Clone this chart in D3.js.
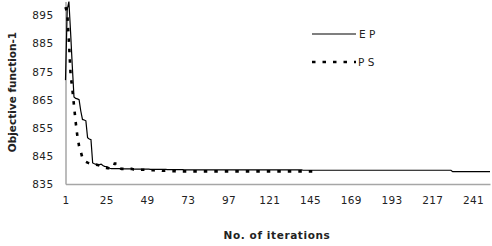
<!DOCTYPE html>
<html>
<head>
<meta charset="utf-8">
<script src="https://cdn.jsdelivr.net/npm/d3@7"></script>
<style>
  body { margin: 0; background: #fff; }
  svg { display: block; font-family: "DejaVu Sans", sans-serif; }
</style>
</head>
<body>
<svg id="chart" width="492" height="246"></svg>
<script>
// Objective function-1 vs iterations, EP and PS

const xTickLabels = [1, 25, 49, 73, 97, 121, 145, 169, 193, 217, 241];
const yTickLabels = [835, 845, 855, 865, 875, 885, 895];

// EP (solid), one value per iteration 1..251
const epValues = [
  872, 897, 900, 889, 877, 866, 865.5, 865.3, 865, 861,
  858, 857.8, 857.5, 851.5, 851, 850.8, 842.5, 842.2, 842, 841.8,
  841.9, 842.1, 841.6, 841.3, 841.2, 841, 840.6, 840.5, 840.5, 840.5,
  840.5, 840.5, 840.5, 840.4, 840.4, 840.4, 840.4, 840.4, 840.4, 840.4,
  840.3, 840.3, 840.3, 840.3, 840.3, 840.3, 840.3, 840.3, 840.3, 840.3,
  840.2, 840.2, 840.2, 840.2, 840.2, 840.2, 840.2, 840.2, 840.2, 840.2,
  840.1, 840.1, 840.1, 840.1, 840.1, 840.1, 840.1, 840.1, 840.1, 840.1,
  840, 840, 840, 840, 840, 840, 840, 840, 840, 840,
  840, 840, 840, 840, 840, 840, 840, 840, 840, 840,
  840, 840, 840, 840, 840, 840, 840, 840, 840, 840,
  840, 840, 840, 840, 840, 840, 840, 840, 840, 840,
  840, 840, 840, 840, 840, 840, 840, 840, 840, 840,
  840, 840, 840, 840, 840, 840, 840, 840, 840, 840,
  840, 840, 840, 840, 840, 840, 840, 840, 840, 840,
  839.9, 839.9, 839.9, 839.9, 839.9, 839.9, 839.9, 839.9, 839.9, 839.9,
  839.9, 839.9, 839.9, 839.9, 839.9, 839.9, 839.9, 839.9, 839.9, 839.9,
  839.9, 839.9, 839.9, 839.9, 839.9, 839.9, 839.9, 839.9, 839.9, 839.9,
  839.9, 839.9, 839.9, 839.9, 839.9, 839.9, 839.9, 839.9, 839.9, 839.9,
  839.9, 839.9, 839.9, 839.9, 839.9, 839.9, 839.9, 839.9, 839.9, 839.9,
  839.9, 839.9, 839.9, 839.9, 839.9, 839.9, 839.9, 839.9, 839.9, 839.9,
  839.9, 839.9, 839.9, 839.9, 839.9, 839.9, 839.9, 839.9, 839.9, 839.9,
  839.9, 839.9, 839.9, 839.9, 839.9, 839.9, 839.9, 839.9, 839.9, 839.9,
  839.9, 839.9, 839.9, 839.9, 839.9, 839.9, 839.9, 839.9, 839.4, 839.4,
  839.4, 839.4, 839.4, 839.4, 839.4, 839.4, 839.4, 839.4, 839.4, 839.4,
  839.4, 839.4, 839.4, 839.4, 839.4, 839.4, 839.4, 839.4, 839.4, 839.4,
  839.4
];

// PS (dashed), iterations 1..150
const psValues = [
  898, 896, 886, 874, 869, 863, 857, 852, 848.5, 846.5,
  844.2, 843.4, 842.9, 842.6, 842.4, 842.2, 842.1, 842, 841.9, 841.8,
  841.6, 841.3, 841, 840.8, 840.7, 840.6, 840.6, 840.6, 840.6, 842.3,
  842.3, 842.3, 840.6, 840.4, 840.4, 840.4, 840.4, 840.4, 840.4, 840.4,
  840.2, 840.2, 840.2, 840.2, 840.1, 840.1, 840.1, 840.1, 840, 840,
  839.9, 839.9, 839.9, 839.8, 839.8, 839.8, 839.8, 839.7, 839.7, 839.7,
  839.6, 839.6, 839.6, 839.6, 839.6, 839.5, 839.5, 839.5, 839.5, 839.5,
  839.5, 839.5, 839.5, 839.5, 839.5, 839.5, 839.5, 839.5, 839.5, 839.5,
  839.5, 839.5, 839.5, 839.5, 839.5, 839.5, 839.5, 839.5, 839.5, 839.5,
  839.5, 839.5, 839.5, 839.5, 839.5, 839.5, 839.5, 839.5, 839.5, 839.5,
  839.5, 839.5, 839.5, 839.5, 839.5, 839.5, 839.5, 839.5, 839.5, 839.5,
  839.5, 839.5, 839.5, 839.5, 839.5, 839.5, 839.5, 839.5, 839.5, 839.5,
  839.5, 839.5, 839.5, 839.5, 839.5, 839.5, 839.5, 839.5, 839.5, 839.5,
  839.5, 839.5, 839.5, 839.5, 839.5, 839.5, 839.5, 839.5, 839.5, 839.5,
  839.5, 839.5, 839.5, 839.5, 839.5, 839.5, 839.5, 839.5, 839.5, 839.5
];

const seriesNames = ['E P', 'P S'];

const svg = d3.select('#chart');

const x = d3.scaleLinear().domain([1, 251]).range([65.5, 490]);
const y = d3.scaleLinear().domain([835, 900]).range([184, 1.5]);

const axisColor = '#a6a6a6';
const textColor = '#222';

// x axis
const xAxis = svg.append('g')
  .attr('transform', `translate(0,${y(835)})`)
  .call(d3.axisBottom(x).tickValues(xTickLabels).tickSize(0).tickPadding(13));
xAxis.select('.domain').attr('stroke', axisColor).attr('stroke-width', 1.5);
xAxis.selectAll('text').attr('font-size', 10.5).attr('fill', textColor)
  .attr('font-family', '"DejaVu Sans", sans-serif').attr('letter-spacing', 0.4);

// y axis
const yAxis = svg.append('g')
  .attr('transform', `translate(${x(1)},0)`)
  .call(d3.axisLeft(y).tickValues(yTickLabels).tickSize(0).tickPadding(12));
yAxis.select('.domain').attr('stroke', axisColor).attr('stroke-width', 1.5);
yAxis.selectAll('text').attr('font-size', 10.5).attr('fill', textColor)
  .attr('font-family', '"DejaVu Sans", sans-serif').attr('letter-spacing', 0.4);

// lines
const line = d3.line()
  .x((d, i) => x(i + 1))
  .y(d => y(d));

svg.append('path')
  .datum(epValues)
  .attr('fill', 'none')
  .attr('stroke', '#000')
  .attr('stroke-width', 1.2)
  .attr('d', line);

svg.append('path')
  .datum(psValues)
  .attr('fill', 'none')
  .attr('stroke', '#000')
  .attr('stroke-width', 2.6)
  .attr('stroke-dasharray', '3.5,7')
  .attr('d', line);

// legend
const legend = svg.append('g');
legend.append('line')
  .attr('x1', 312).attr('x2', 356).attr('y1', 34).attr('y2', 34)
  .attr('stroke', '#000').attr('stroke-width', 1.2);
legend.append('text')
  .attr('x', 359).attr('y', 38)
  .attr('font-size', 10.5).attr('fill', textColor)
  .text(seriesNames[0]);
legend.append('line')
  .attr('x1', 312).attr('x2', 356).attr('y1', 62).attr('y2', 62)
  .attr('stroke', '#000').attr('stroke-width', 2.6)
  .attr('stroke-dasharray', '3.5,7');
legend.append('text')
  .attr('x', 358).attr('y', 66)
  .attr('font-size', 10.5).attr('fill', textColor)
  .text(seriesNames[1]);

// axis titles
svg.append('text')
  .attr('transform', 'translate(16,92) rotate(-90)')
  .attr('text-anchor', 'middle')
  .attr('font-size', 10.5).attr('font-weight', 'bold').attr('fill', textColor)
  .text('Objective function-1');

svg.append('text')
  .attr('x', 277).attr('y', 239)
  .attr('text-anchor', 'middle')
  .attr('font-size', 10.5).attr('font-weight', 'bold').attr('fill', textColor)
  .attr('letter-spacing', 0.6)
  .text('No. of iterations');
</script>
</body>
</html>
